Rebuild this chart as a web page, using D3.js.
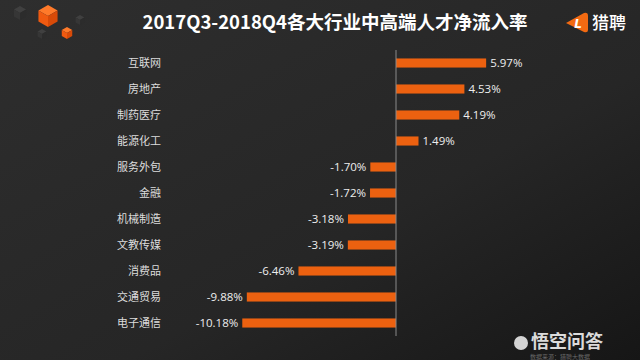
<!DOCTYPE html>
<html><head><meta charset="utf-8">
<script src="https://cdn.jsdelivr.net/npm/d3@7"></script>
<style>html,body{margin:0;padding:0;background:#222;}svg{display:block;}</style>
</head><body>
<svg id="c" width="640" height="360"></svg>
<script>
const categories = ["互联网","房地产","制药医疗","能源化工","服务外包","金融","机械制造","文教传媒","消费品","交通贸易","电子通信"];
const values = [5.97,4.53,4.19,1.49,-1.70,-1.72,-3.18,-3.19,-6.46,-9.88,-10.18];
const title = "2017Q3-2018Q4各大行业中高端人才净流入率";

const svg = d3.select("#c");
const defs = svg.append("defs");
const g1 = defs.append("linearGradient").attr("id","bg").attr("x1","0").attr("y1","0").attr("x2","1").attr("y2","1");
g1.append("stop").attr("offset","0").attr("stop-color","#2e2e2e");
g1.append("stop").attr("offset","0.6").attr("stop-color","#262626");
g1.append("stop").attr("offset","1").attr("stop-color","#161616");
svg.append("rect").attr("width",640).attr("height",360).attr("fill","url(#bg)");

// decorative cubes
function cube(cx, cy, r, top, left, right){
  const pts = a => a.map(p=>p.join(",")).join(" ");
  const h = r*0.5;
  svg.append("polygon").attr("points",pts([[cx,cy-r],[cx+r*0.87,cy-h],[cx,cy],[cx-r*0.87,cy-h]])).attr("fill",top);
  svg.append("polygon").attr("points",pts([[cx-r*0.87,cy-h],[cx,cy],[cx,cy+r],[cx-r*0.87,cy+h]])).attr("fill",left);
  svg.append("polygon").attr("points",pts([[cx+r*0.87,cy-h],[cx,cy],[cx,cy+r],[cx+r*0.87,cy+h]])).attr("fill",right);
}
cube(20,13,7,"#404040","#363636","#2c2c2c");
cube(80,20,5,"#404040","#363636","#2c2c2c");
cube(42,34,5,"#404040","#363636","#2c2c2c");
cube(48,16,11,"#ff7a2a","#f05a10","#d84a08");
cube(67,33,6,"#ff7a2a","#f05a10","#d84a08");

svg.append("text").attr("x",335).attr("y",29).attr("text-anchor","middle")
  .attr("font-family","'Noto Sans CJK SC', sans-serif").attr("font-weight","bold")
  .attr("font-size",18.5).attr("fill","#ffffff").text(title);

// logo
svg.append("path").attr("d","M566,23 L584,13 Q588,12 588,16 L588,30 Q588,33 584,32 Z").attr("fill","#f26a12");
svg.append("text").attr("x",578).attr("y",28).attr("text-anchor","middle").attr("font-family","'DejaVu Sans', sans-serif")
  .attr("font-weight","bold").attr("font-style","italic").attr("font-size",12).attr("fill","#fff").text("L");
svg.append("text").attr("x",592).attr("y",29).attr("font-family","'Noto Sans CJK SC', sans-serif").attr("font-weight","500")
  .attr("font-size",17).attr("fill","#ffffff").text("猎聘");

const x = d3.scaleLinear().domain([-11, 7]).range([396 - 11*15.1, 396 + 7*15.1]);
const y = d3.scaleBand().domain(categories).range([50, 336]).paddingInner(0.65).paddingOuter(0.325);

const data = categories.map((c,i)=>({c, v: values[i]}));

svg.selectAll("rect.bar").data(data).enter().append("rect").attr("class","bar")
  .attr("x", d => x(Math.min(0,d.v))).attr("y", d => y(d.c))
  .attr("width", d => Math.abs(x(d.v)-x(0))).attr("height", y.bandwidth())
  .attr("fill","#ec6110");

svg.append("line").attr("x1",x(0)).attr("x2",x(0)).attr("y1",50).attr("y2",336)
  .attr("stroke","#8a8a8a").attr("stroke-width",1);

const fam = "'Noto Sans CJK SC', sans-serif";
svg.selectAll("text.cat").data(data).enter().append("text").attr("class","cat")
  .attr("x",161).attr("y", d => y(d.c)+y.bandwidth()/2).attr("dy","0.35em")
  .attr("text-anchor","end").attr("font-family",fam).attr("font-size",11).attr("fill","#dcdcdc").text(d=>d.c);

svg.selectAll("text.val").data(data).enter().append("text").attr("class","val")
  .attr("x", d => d.v >= 0 ? x(d.v)+4 : x(d.v)-4)
  .attr("y", d => y(d.c)+y.bandwidth()/2).attr("dy","0.35em")
  .attr("text-anchor", d => d.v >= 0 ? "start" : "end")
  .attr("font-family","'Open Sans', sans-serif").attr("font-size",11.5).attr("fill","#eeeeee")
  .text(d => d.v.toFixed(2) + "%");

// watermark
const wm = svg.append("g").attr("opacity",0.9);
wm.append("circle").attr("cx",521).attr("cy",343).attr("r",7).attr("fill","#e8e8e8");
wm.append("text").attr("x",531).attr("y",348).attr("font-family",fam).attr("font-weight","bold")
  .attr("font-size",18).attr("fill","#f0f0f0").text("悟空问答");
svg.append("text").attr("x",560).attr("y",358.5).attr("text-anchor","middle").attr("font-family",fam)
  .attr("font-size",6).attr("fill","#888").attr("opacity",0.7).text("数据来源：猎聘大数据");
</script>
</body></html>
